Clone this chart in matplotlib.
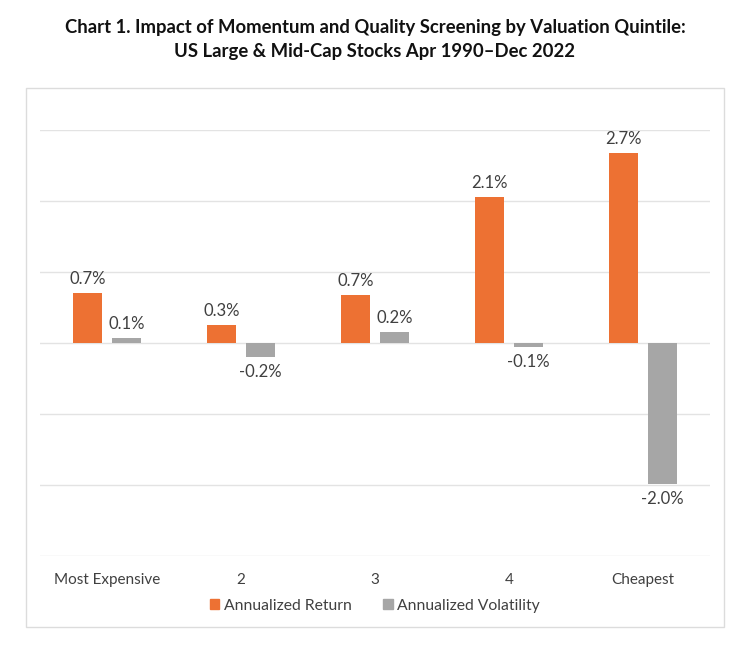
import numpy as np
import matplotlib
matplotlib.use("Agg")
import matplotlib.pyplot as plt
from matplotlib.patches import Rectangle, Patch

# data (percent)
categories = ["Most Expensive", "2", "3", "4", "Cheapest"]
ann_return = [0.71, 0.26, 0.68, 2.06, 2.68]
ann_volatility = [0.07, -0.20, 0.16, -0.06, -1.98]
series_names = ["Annualized Return", "Annualized Volatility"]

ORANGE = "#ED7133"
GREY = "#A6A6A6"
TEXT = "#404040"
GRID = "#E3E3E3"

plt.rcParams["font.family"] = ["Lato", "DejaVu Sans"]

W, H = 750, 657
fig = plt.figure(figsize=(W / 100, H / 100), dpi=100)

# outer frame of the chart area
fig.patches.append(Rectangle((26 / W, 1 - 627 / H), 698 / W, 539 / H,
                             transform=fig.transFigure, fill=False,
                             edgecolor="#DCDCDC", linewidth=1))

fig.text(0.5, 1 - 28 / H,
         "Chart 1. Impact of Momentum and Quality Screening by Valuation Quintile:",
         ha="center", va="center", fontsize=13.3, fontweight="bold", color="#111111")
fig.text(0.5, 1 - 52 / H,
         "US Large & Mid-Cap Stocks Apr 1990\u2013Dec 2022",
         ha="center", va="center", fontsize=13.3, fontweight="bold", color="#111111")

ax = fig.add_axes([40 / W, 1 - 556 / H, 670 / W, 426 / H])
x = np.arange(len(categories))
width = 0.22
off = 0.145
b1 = ax.bar(x - off, ann_return, width, color=ORANGE, zorder=3)
b2 = ax.bar(x + off, ann_volatility, width, color=GREY, zorder=3)

for bars, vals in ((b1, ann_return), (b2, ann_volatility)):
    for bar, v in zip(bars, vals):
        cx = bar.get_x() + bar.get_width() / 2
        if v >= 0:
            ax.annotate(f"{v:.1f}%", (cx, v), xytext=(0, 4), textcoords="offset points",
                        ha="center", va="bottom", fontsize=12, color=TEXT)
        else:
            ax.annotate(f"{v:.1f}%", (cx, v), xytext=(0, -5), textcoords="offset points",
                        ha="center", va="top", fontsize=12, color=TEXT)

ax.set_xlim(-0.5, len(categories) - 0.5)
ax.set_ylim(-3, 3)
ax.set_yticks(range(-3, 4))
ax.yaxis.grid(True, color=GRID, linewidth=1, zorder=0)
ax.set_yticklabels([])
ax.tick_params(axis="y", length=0)
ax.set_xticks(x)
ax.set_xticklabels(categories, fontsize=11, color=TEXT)
ax.tick_params(axis="x", length=0, pad=12)
for s in ax.spines.values():
    s.set_visible(False)

handles = [Patch(color=ORANGE), Patch(color=GREY)]
leg = fig.legend(handles, series_names, loc="center", bbox_to_anchor=(0.5, 1 - 606 / H),
                 ncol=2, frameon=False, fontsize=11.3, handlelength=0.6, handleheight=0.6,
                 handletextpad=0.3, columnspacing=2.0)
for t in leg.get_texts():
    t.set_color(TEXT)

fig.savefig("out.png", dpi=100)
